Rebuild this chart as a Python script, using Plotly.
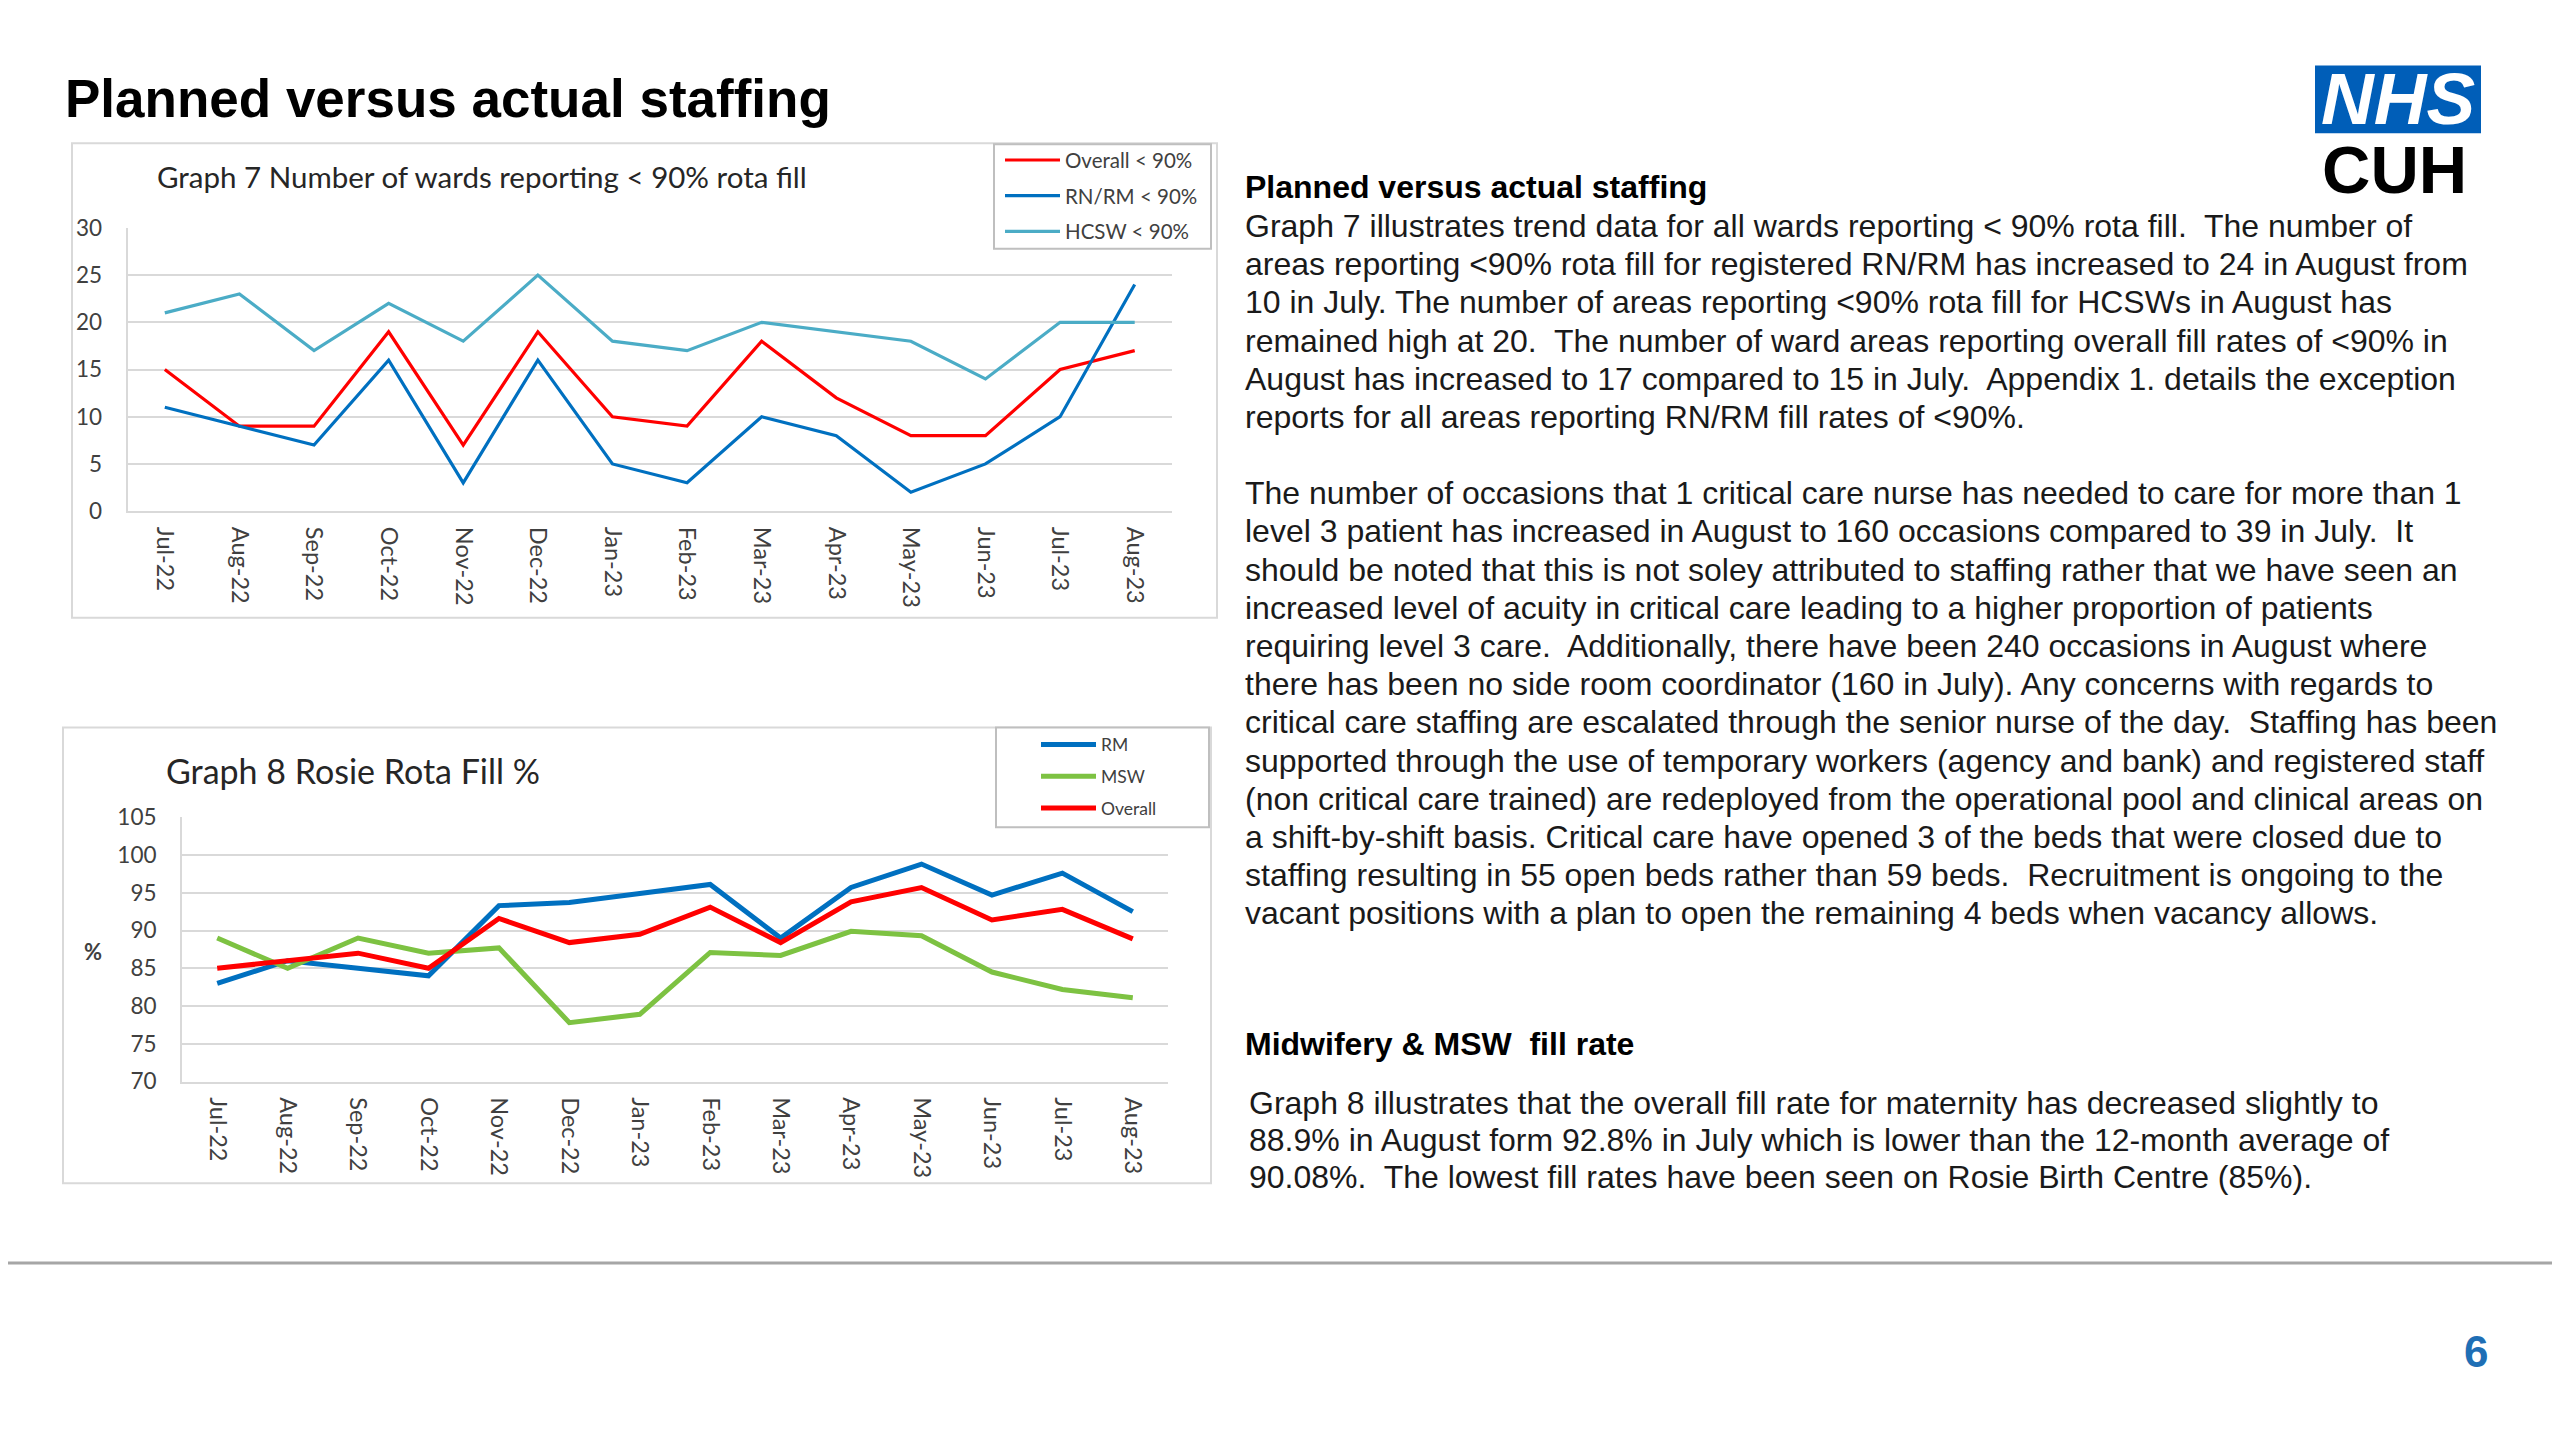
import plotly.graph_objects as go

W, H = 2560, 1440

# mapping from target page pixels to paper fractions (calibrated to the rendered page)
def fx(x):
    return (x - 8) / W

def fy(y):
    return 1 - ((y - 20.5) / 0.984) / H

# ---------------- data ----------------
months = ["Jul-22", "Aug-22", "Sep-22", "Oct-22", "Nov-22", "Dec-22", "Jan-23",
          "Feb-23", "Mar-23", "Apr-23", "May-23", "Jun-23", "Jul-23", "Aug-23"]

g7_overall = [15, 9, 9, 19, 7, 19, 10, 9, 18, 12, 8, 8, 15, 17]
g7_rnrm = [11, 9, 7, 16, 3, 16, 5, 3, 10, 8, 2, 5, 10, 24]
g7_hcsw = [21, 23, 17, 22, 18, 25, 18, 17, 20, 19, 18, 14, 20, 20]
g7_names = ["Overall &lt; 90%", "RN/RM &lt; 90%", "HCSW &lt; 90%"]

g8_rm = [83, 86, 85, 84, 93.3, 93.7, 94.9, 96.1, 89, 95.7, 98.8, 94.7, 97.6, 92.5]
g8_msw = [89, 85, 89, 87, 87.7, 77.8, 78.9, 87.1, 86.7, 89.9, 89.3, 84.5, 82.2, 81.1]
g8_overall = [85, 86, 87, 85, 91.6, 88.4, 89.5, 93.1, 88.4, 93.8, 95.7, 91.4, 92.8, 88.9]
g8_names = ["RM", "MSW", "Overall"]

page_title = "Planned versus actual staffing"
g7_title = "Graph 7 Number of wards reporting &lt; 90% rota fill"
g8_title = "Graph 8 Rosie Rota Fill %"

heading1 = "Planned versus actual staffing"
para1 = [
    "Graph 7 illustrates trend data for all wards reporting &lt; 90% rota fill.  The number of",
    "areas reporting &lt;90% rota fill for registered RN/RM has increased to 24 in August from",
    "10 in July. The number of areas reporting &lt;90% rota fill for HCSWs in August has",
    "remained high at 20.  The number of ward areas reporting overall fill rates of &lt;90% in",
    "August has increased to 17 compared to 15 in July.  Appendix 1. details the exception",
    "reports for all areas reporting RN/RM fill rates of &lt;90%.",
]
para2 = [
    "The number of occasions that 1 critical care nurse has needed to care for more than 1",
    "level 3 patient has increased in August to 160 occasions compared to 39 in July.  It",
    "should be noted that this is not soley attributed to staffing rather that we have seen an",
    "increased level of acuity in critical care leading to a higher proportion of patients",
    "requiring level 3 care.  Additionally, there have been 240 occasions in August where",
    "there has been no side room coordinator (160 in July). Any concerns with regards to",
    "critical care staffing are escalated through the senior nurse of the day.  Staffing has been",
    "supported through the use of temporary workers (agency and bank) and registered staff",
    "(non critical care trained) are redeployed from the operational pool and clinical areas on",
    "a shift-by-shift basis. Critical care have opened 3 of the beds that were closed due to",
    "staffing resulting in 55 open beds rather than 59 beds.  Recruitment is ongoing to the",
    "vacant positions with a plan to open the remaining 4 beds when vacancy allows.",
]
heading2 = "Midwifery &amp; MSW  fill rate"
para3 = [
    "Graph 8 illustrates that the overall fill rate for maternity has decreased slightly to",
    "88.9% in August form 92.8% in July which is lower than the 12-month average of",
    "90.08%.  The lowest fill rates have been seen on Rosie Birth Centre (85%).",
]
page_no = "6"

# ---------------- styling ----------------
RED = "#FF0000"
BLUE = "#0070C0"
LBLUE = "#4BACC6"
GREEN = "#7DC242"
GRID = "#D9D9D9"
CHART_FONT = "Lato, 'Open Sans', sans-serif"
BODY_FONT = "'Liberation Sans', Arial, sans-serif"

fig = go.Figure()

g7_series = [(g7_overall, RED), (g7_rnrm, BLUE), (g7_hcsw, LBLUE)]
for i, ((vals, col), name) in enumerate(zip(g7_series, g7_names)):
    fig.add_trace(go.Scatter(x=months, y=vals, mode="lines", name=name,
                             line=dict(color=col, width=3.2),
                             xaxis="x", yaxis="y", legend="legend",
                             legendgroup="a%d" % i))

g8_series = [(g8_rm, BLUE), (g8_msw, GREEN), (g8_overall, RED)]
for i, ((vals, col), name) in enumerate(zip(g8_series, g8_names)):
    fig.add_trace(go.Scatter(x=months, y=vals, mode="lines", name=name,
                             line=dict(color=col, width=5),
                             xaxis="x2", yaxis="y2", legend="legend2",
                             legendgroup="b%d" % i))

tickfont = dict(family=CHART_FONT, size=22.5, color="#404040")

common_x = dict(type="category", range=[-0.5, 13.5], showgrid=False,
                showline=True, linecolor=GRID, linewidth=2, ticks="",
                tickangle=90, tickfont=dict(family=CHART_FONT, size=23.5, color="#404040"),
                ticklabelstandoff=9, fixedrange=True)

fig.update_layout(
    width=W, height=H,
    margin=dict(l=0, r=0, t=0, b=0),
    paper_bgcolor="white", plot_bgcolor="white",
    showlegend=True,
    xaxis=dict(domain=[fx(127.5), fx(1172)], anchor="y", **common_x),
    yaxis=dict(domain=[fy(511), fy(227)], anchor="x", range=[0, 30], dtick=5,
               showgrid=True, gridcolor=GRID, gridwidth=2, zeroline=False,
               showline=True, linecolor=GRID, linewidth=2,
               tickfont=tickfont, ticklabelstandoff=19, fixedrange=True),
    xaxis2=dict(domain=[fx(182), fx(1168)], anchor="y2", **common_x),
    yaxis2=dict(domain=[fy(1083), fy(818)], anchor="x2", range=[70, 105], dtick=5,
                showgrid=True, gridcolor=GRID, gridwidth=2, zeroline=False,
                showline=True, linecolor=GRID, linewidth=2,
                tickfont=tickfont, ticklabelstandoff=19, fixedrange=True),
    legend=dict(x=fx(1000), y=fy(139), xanchor="left", yanchor="top",
                bgcolor="rgba(0,0,0,0)", borderwidth=0, itemwidth=55,
                font=dict(family=CHART_FONT, size=20.5, color="#404040"),
                traceorder="grouped", tracegroupgap=6),
    legend2=dict(x=fx(1036), y=fy(727), xanchor="left", yanchor="top",
                 bgcolor="rgba(0,0,0,0)", borderwidth=0, itemwidth=55,
                 font=dict(family=CHART_FONT, size=17.5, color="#404040"),
                 traceorder="grouped", tracegroupgap=6),
)

shapes = []
# chart frames
shapes.append(dict(type="rect", xref="paper", yref="paper", x0=fx(72), x1=fx(1217),
                   y0=fy(618), y1=fy(142), line=dict(color=GRID, width=2), layer="below"))
shapes.append(dict(type="rect", xref="paper", yref="paper", x0=fx(63), x1=fx(1211),
                   y0=fy(1185), y1=fy(728), line=dict(color=GRID, width=2), layer="below"))
# legend boxes
shapes.append(dict(type="rect", xref="paper", yref="paper", x0=fx(994), x1=fx(1211),
                   y0=fy(248), y1=fy(143), line=dict(color="#BFBFBF", width=2),
                   fillcolor="white", layer="above"))
shapes.append(dict(type="rect", xref="paper", yref="paper", x0=fx(996), x1=fx(1209),
                   y0=fy(828), y1=fy(728), line=dict(color="#BFBFBF", width=2),
                   fillcolor="white", layer="above"))
# bottom rule
shapes.append(dict(type="line", xref="paper", yref="paper", x0=0, x1=1,
                   y0=fy(1265), y1=fy(1265), line=dict(color="#A6A6A6", width=3)))
# NHS logo box
shapes.append(dict(type="rect", xref="paper", yref="paper", x0=fx(2315), x1=fx(2481),
                   y0=fy(132), y1=fy(64), line=dict(width=0), fillcolor="#005EB8"))
fig.update_layout(shapes=shapes)

ann = []

def text(x, y, s, size, color="#1a1a1a", family=BODY_FONT, xanchor="left", bold=False):
    if bold:
        s = "<b>%s</b>" % s
    ann.append(dict(xref="paper", yref="paper", x=fx(x), y=fy(y), text=s,
                    showarrow=False, xanchor=xanchor, yanchor="middle",
                    font=dict(family=family, size=size, color=color)))

text(63, 97, page_title, 53, color="#000000", bold=True)
text(155, 175, g7_title, 29.5, color="#262626", family=CHART_FONT)
text(164, 771, g8_title, 34, color="#262626", family=CHART_FONT)
text(93, 953, "%", 22, color="#404040", family=CHART_FONT, xanchor="center", bold=True)

LS = 38.3
text(1243, 186, heading1, 32, color="#000000", bold=True)
for i, line in enumerate(para1):
    text(1243, 225 + i * LS, line, 32)
for i, line in enumerate(para2):
    text(1243, 493 + i * LS, line, 32)
text(1243, 1045, heading2, 32, color="#000000", bold=True)
for i, line in enumerate(para3):
    text(1247, 1105 + i * 37, line, 32)

# logo texts
text(2398, 97, "<i>NHS</i>", 73, color="white", xanchor="center", bold=True)
text(2394, 168, "CUH", 67, color="#000000", xanchor="center", bold=True)
# page number
text(2476, 1354, page_no, 44, color="#1F6FB5", xanchor="center", bold=True)

fig.update_layout(annotations=ann)
fig.write_html("out.html")
